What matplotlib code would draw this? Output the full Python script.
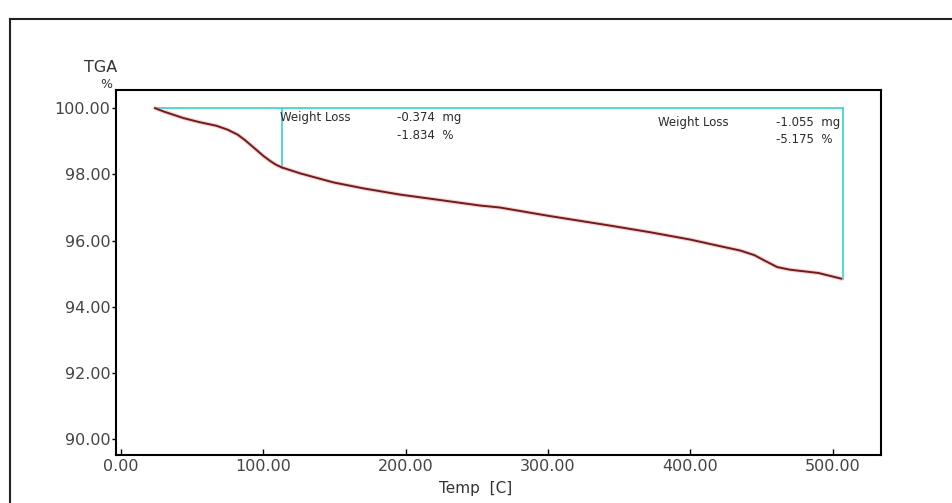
import matplotlib
matplotlib.use("Agg")
import matplotlib.pyplot as plt
from matplotlib.lines import Line2D

# Data
temp = [24, 30, 44, 55, 67, 75, 82, 87, 93, 100, 105, 109, 113, 126, 149, 170,
        196, 225, 252, 266, 300, 344, 372, 400, 421, 435, 445, 452, 461, 470,
        490, 506]
weight = [100.0, 99.9, 99.7, 99.58, 99.47, 99.35, 99.2, 99.04, 98.82, 98.56,
          98.4, 98.29, 98.21, 98.03, 97.76, 97.58, 97.39, 97.22, 97.06, 97.0,
          96.75, 96.45, 96.25, 96.03, 95.83, 95.7, 95.56, 95.4, 95.2, 95.12,
          95.02, 94.85]

step1_start, step1_end, step1_low = 24, 113, 98.2
step2_end, step2_low = 507, 94.85
loss1_text = ["Weight Loss", "-0.374  mg", "-1.834  %"]
loss2_text = ["Weight Loss", "-1.055  mg", "-5.175  %"]

xticks = [0, 100, 200, 300, 400, 500]
yticks = [90, 92, 94, 96, 98, 100]

plt.rcParams['font.family'] = ['DejaVu Sans']

fig = plt.figure(figsize=(9.52, 5.03), dpi=100)
W, H = 952, 503
ax = fig.add_axes([116 / W, 1 - 455 / H, (881 - 116) / W, (455 - 90) / H])

ax.set_xlim(-3.5, 534)
ax.set_ylim(89.52, 100.55)

cyan = '#45d3d3'
ax.plot([step1_start, step2_end], [100, 100], color=cyan, lw=1.3, zorder=2)
ax.plot([step1_end, step1_end], [100, step1_low], color=cyan, lw=1.3, zorder=2)
ax.plot([step2_end, step2_end], [100, step2_low], color=cyan, lw=1.3, zorder=2)

ax.plot(temp, weight, color='#f0a0a0', lw=3.0, alpha=0.5, zorder=3)
ax.plot(temp, weight, color='#6e1c1c', lw=1.4, zorder=4)

fs = 8.5
tc = '#2a2a2a'
ax.text(112, 99.73, loss1_text[0], fontsize=fs, va='center', ha='left', color=tc)
ax.text(194, 99.73, loss1_text[1], fontsize=fs, va='center', ha='left', color=tc)
ax.text(194, 99.17, loss1_text[2], fontsize=fs, va='center', ha='left', color=tc)
ax.text(377, 99.58, loss2_text[0], fontsize=fs, va='center', ha='left', color=tc)
ax.text(460, 99.58, loss2_text[1], fontsize=fs, va='center', ha='left', color=tc)
ax.text(460, 99.06, loss2_text[2], fontsize=fs, va='center', ha='left', color=tc)

ax.set_xticks(xticks)
ax.set_xticklabels([f"{v:.2f}" for v in xticks])
ax.set_yticks(yticks)
ax.set_yticklabels([f"{v:.2f}" for v in yticks])
ax.tick_params(axis='x', direction='in', length=4, width=1, labelsize=11.5,
               labelcolor='#444444', pad=3)
ax.tick_params(axis='y', direction='out', length=3, width=1, labelsize=11.5,
               labelcolor='#444444', pad=1)
for s in ax.spines.values():
    s.set_linewidth(1.5)
    s.set_color('black')

fig.text(117 / W, 1 - 67 / H, "TGA", fontsize=11.5, ha='right', va='center', color='#333333')
fig.text(112 / W, 1 - 85 / H, "%", fontsize=9, ha='right', va='center', color='#333333')
fig.text(476 / W, 1 - 488 / H, "Temp  [C]", fontsize=11, ha='center', va='center', color='#333333')

# outer frame
fig.add_artist(Line2D([10 / W, 1.0], [1 - 19 / H, 1 - 19 / H], color='#222222', lw=1.5,
                      transform=fig.transFigure))
fig.add_artist(Line2D([10 / W, 10 / W], [1 - 19 / H, 0], color='#222222', lw=1.5,
                      transform=fig.transFigure))

fig.savefig("out.png", dpi=100)
